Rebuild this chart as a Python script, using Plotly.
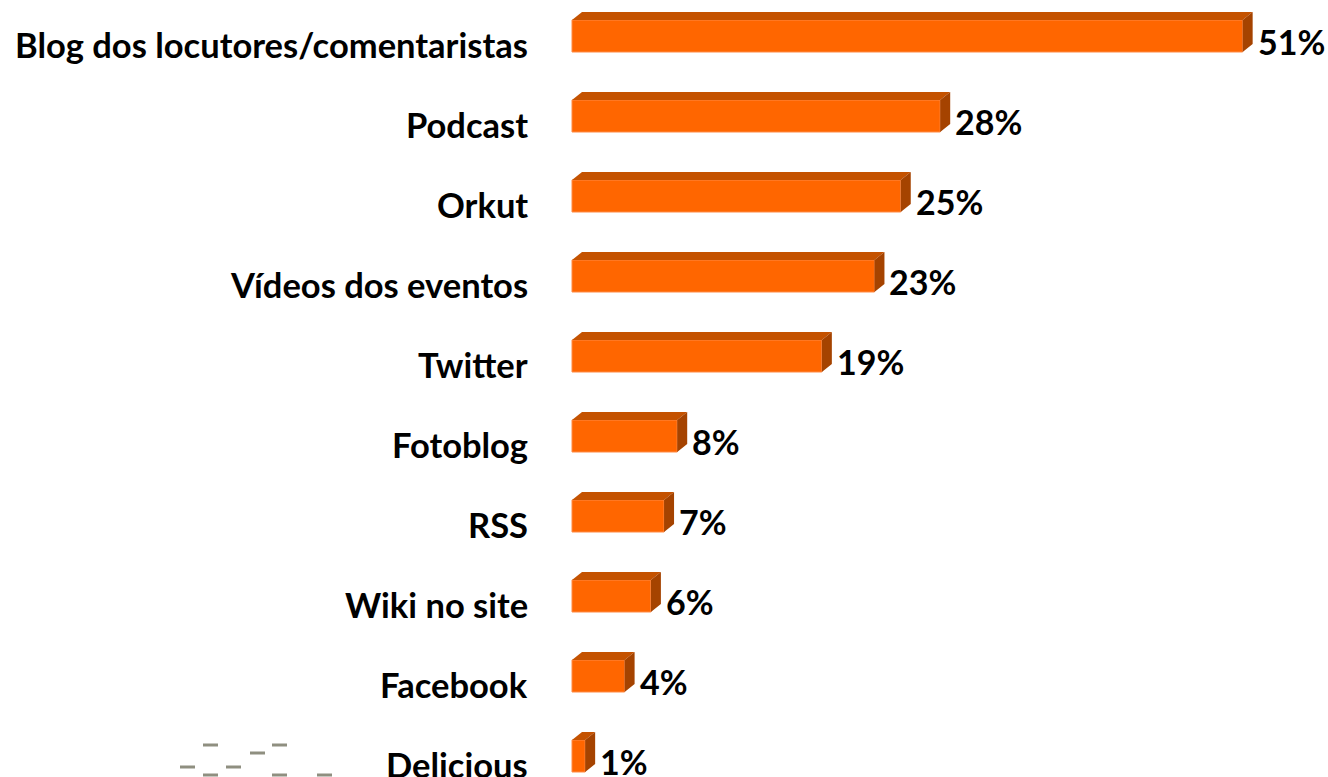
import plotly.graph_objects as go

categories = ["Blog dos locutores/comentaristas", "Podcast", "Orkut", "Vídeos dos eventos",
              "Twitter", "Fotoblog", "RSS", "Wiki no site", "Facebook", "Delicious"]
values = [51, 28, 25, 23, 19, 8, 7, 6, 4, 1]
value_labels = ["51%", "28%", "25%", "23%", "19%", "8%", "7%", "6%", "4%", "1%"]

W, H = 1328, 777
X0_PX = 572.0          # pixel of value 0
PX_PER_UNIT = 13.15    # pixels per percent
ROW_PX = 80.0
FIRST_ROW_PX = 36.0

x_min = -X0_PX / PX_PER_UNIT
x_max = (W - X0_PX) / PX_PER_UNIT
y_top = -FIRST_ROW_PX / ROW_PX
y_bot = (H - FIRST_ROW_PX) / ROW_PX

FRONT = "#FF6600"
TOP = "#C45200"
SIDE = "#A54300"

half = 0.2
dx = 10 / PX_PER_UNIT
dy = 8 / ROW_PX

idx = list(range(len(categories)))

fig = go.Figure()
fig.add_trace(go.Bar(
    x=values, y=idx, orientation="h", width=2 * half, base=0,
    marker=dict(color=FRONT, line=dict(color="#FF8A45", width=1)),
    hoverinfo="skip", showlegend=False))

tx, ty, sx, sy = [], [], [], []
for i, v in zip(idx, values):
    tx += [0, v, v + dx, dx, 0, None]
    ty += [i - half, i - half, i - half - dy, i - half - dy, i - half, None]
    sx += [v, v + dx, v + dx, v, v, None]
    sy += [i - half, i - half - dy, i + half - dy, i + half, i - half, None]

fig.add_trace(go.Scatter(x=tx, y=ty, fill="toself", fillcolor=TOP, mode="lines",
                         line=dict(width=0, color=TOP), hoverinfo="skip", showlegend=False))
fig.add_trace(go.Scatter(x=sx, y=sy, fill="toself", fillcolor=SIDE, mode="lines",
                         line=dict(width=0, color=SIDE), hoverinfo="skip", showlegend=False))

cat_font = dict(family="Lato", size=34.5, color="#000000", weight="bold")
val_font = dict(family="Lato", size=34, color="#000000", weight="bold")
annotations = []
for i, (c, v, lab) in enumerate(zip(categories, values, value_labels)):
    annotations.append(dict(x=0, y=i, xref="x", yref="y", text=c, showarrow=False,
                            xanchor="right", yanchor="middle", xshift=-42, yshift=-8,
                            font=cat_font))
    annotations.append(dict(x=v + dx, y=i, xref="x", yref="y", text=lab, showarrow=False,
                            xanchor="left", yanchor="middle", xshift=3, yshift=-5,
                            font=val_font))

# faint decorative dashes (partial logo) at lower left
dash_px = [(203, 218, 745), (250, 265, 753), (272, 287, 745), (180, 195, 767),
           (226, 241, 767), (203, 218, 775), (272, 287, 775), (317, 332, 775)]
shapes = []
for x1, x2, yp in dash_px:
    shapes.append(dict(type="line", xref="paper", yref="paper",
                       x0=x1 / W, x1=x2 / W, y0=1 - yp / H, y1=1 - yp / H,
                       line=dict(color="#8f8f80", width=3)))

fig.update_layout(
    width=W, height=H,
    margin=dict(l=0, r=0, t=0, b=0),
    paper_bgcolor="white", plot_bgcolor="white",
    xaxis=dict(range=[x_min, x_max], visible=False, fixedrange=True),
    yaxis=dict(range=[y_bot, y_top], visible=False, fixedrange=True),
    annotations=annotations, shapes=shapes, showlegend=False,
)

fig.write_html("out.html", config={"displayModeBar": False},
               post_script="document.body.style.margin='0';document.body.style.overflow='hidden';")
